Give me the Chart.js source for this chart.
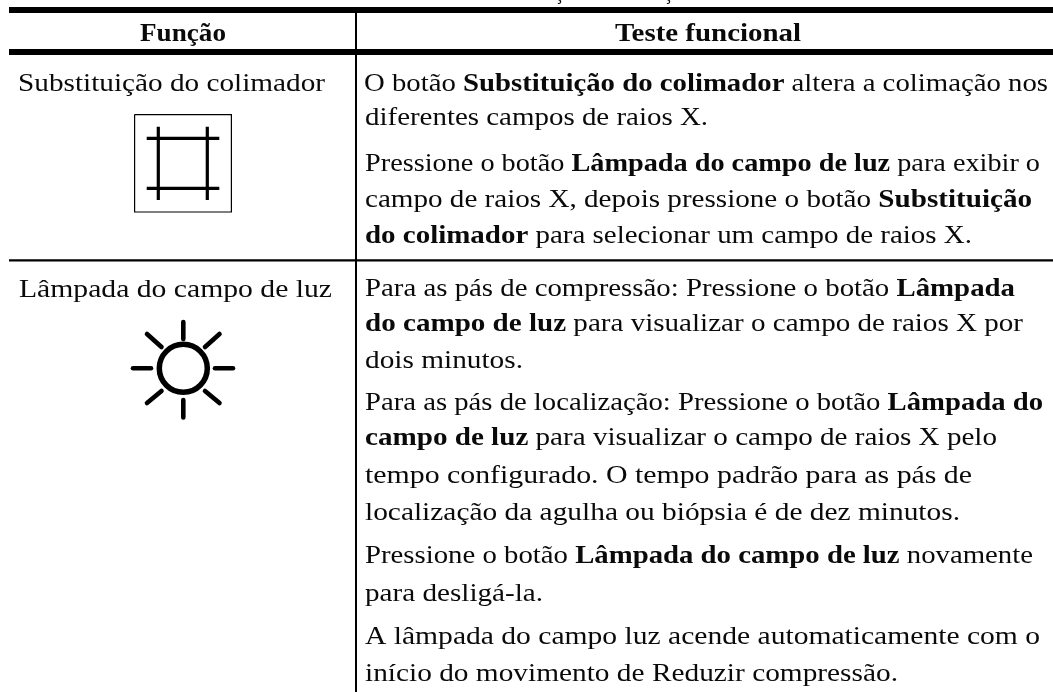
<!DOCTYPE html>
<html lang="pt">
<head>
<meta charset="utf-8">
<title>Função e teste funcional</title>
<style>html,body{margin:0;padding:0;background:#fff}canvas{display:block}</style>
<script src="https://cdn.jsdelivr.net/npm/chart.js@4"></script>
</head>
<body>
<canvas id="c" width="1053" height="692"></canvas>
<script>
// Table rules
const topRule = [[9,10],[1053,10]];
const headerRule = [[9,52],[1053,52]];
const rowRule = [[9,260.3],[1053,260.3]];
const columnRule = [[356,13],[356,692]];
// Collimator icon
const iconBox = [[134.6,114.6],[231.4,114.6],[231.4,212],[134.6,212],[134.6,114.6]];
const cropMarks = [
  [[158.3,126.7],[158.3,200]],
  [[207.3,126.7],[207.3,200]],
  [[146.7,138.3],[219.3,138.3]],
  [[146.7,188.3],[219.3,188.3]]
];
// Lamp icon
const sunCentre = [[183.3,368.3]];
const sunRays = [
  [[183.3,322],[183.3,339]],
  [[183.3,400],[183.3,417.5]],
  [[133,368.3],[151,368.3]],
  [[215,368.3],[233,368.3]],
  [[147,334],[161.5,347]],
  [[219.5,334],[205,347]],
  [[147,403],[161.5,391]],
  [[219.5,403],[205,391]]
];
// Text: each line is [left, baseline, right, runs]; a run is [text, bold]
const headerLines = [
  [140,41,226,[["Função",true]]],
  [615,41,801,[["Teste funcional",true]]]
];
const clippedTitle = [
  [555,-1,563,[["ç",false]]],
  [664,-1,672,[["ç",false]]]
];
const functionLines = [
  [18,91,325,[["Substituição do colimador",false]]],
  [19,297,332,[["Lâmpada do campo de luz",false]]]
];
const testLines = [
  [364,91,1048,[["O botão ",false],["Substituição do colimador",true],[" altera a colimação nos",false]]],
  [365,125,708,[["diferentes campos de raios X.",false]]],
  [365,171,1040,[["Pressione o botão ",false],["Lâmpada do campo de luz",true],[" para exibir o",false]]],
  [365,207,1032,[["campo de raios X, depois pressione o botão ",false],["Substituição",true]]],
  [365,243,972,[["do colimador",true],[" para selecionar um campo de raios X.",false]]],
  [365,296,1015,[["Para as pás de compressão: Pressione o botão ",false],["Lâmpada",true]]],
  [365,331,1023,[["do campo de luz",true],[" para visualizar o campo de raios X por",false]]],
  [365,368,523,[["dois minutos.",false]]],
  [365,410,1043,[["Para as pás de localização: Pressione o botão ",false],["Lâmpada do",true]]],
  [365,445,997,[["campo de luz",true],[" para visualizar o campo de raios X pelo",false]]],
  [365,483,972,[["tempo configurado. O tempo padrão para as pás de",false]]],
  [365,520,960,[["localização da agulha ou biópsia é de dez minutos.",false]]],
  [365,563,1033,[["Pressione o botão ",false],["Lâmpada do campo de luz",true],[" novamente",false]]],
  [365,601,543,[["para desligá-la.",false]]],
  [365,644,1040,[["A lâmpada do campo luz acende automaticamente com o",false]]],
  [365,681,898,[["início do movimento de Reduzir compressão.",false]]]
];

const pts = a => a.map(([x,y]) => ({x,y}));
const ink = '#000';
const line = (a, w, cap='butt') => ({type:'scatter',data:pts(a),showLine:true,borderColor:ink,borderWidth:w,borderCapStyle:cap,pointRadius:0,fill:false,tension:0});

const FONT = '"Liberation Serif", serif';
const SIZE = 25.5;
const textPlugin = {
  id:'tableText',
  afterDraw(chart){
    const {ctx, scales:{x:sx,y:sy}} = chart;
    const fontOf = b => (b?'bold ':'') + SIZE + 'px ' + FONT;
    ctx.save();
    ctx.fillStyle = '#0a0a0a';
    ctx.textBaseline = 'alphabetic';
    ctx.textAlign = 'left';
    [...clippedTitle,...headerLines,...functionLines,...testLines].forEach(([l,b,r,runs])=>{
      let total = 0;
      runs.forEach(([t,bold])=>{ctx.font = fontOf(bold); total += ctx.measureText(t).width;});
      const x0 = sx.getPixelForValue(l), x1 = sx.getPixelForValue(r), y = sy.getPixelForValue(b);
      const k = (x1-x0)/total;
      ctx.save();
      ctx.translate(x0,y);
      ctx.scale(k,1);
      let cx = 0;
      runs.forEach(([t,bold])=>{ctx.font = fontOf(bold); ctx.fillText(t,cx,0); cx += ctx.measureText(t).width;});
      ctx.restore();
    });
    ctx.restore();
  }
};

new Chart(document.getElementById('c'),{
  type:'scatter',
  data:{datasets:[
    line(topRule,6), line(headerRule,6), line(rowRule,2.2), line(columnRule,2),
    line(iconBox,1.2),
    ...cropMarks.map(m=>line(m,3.2)),
    ...sunRays.map(m=>line(m,4.6,'round')),
    {type:'scatter',data:pts(sunCentre),pointStyle:'circle',pointRadius:24,pointBorderWidth:5.5,pointBorderColor:ink,pointBackgroundColor:'rgba(0,0,0,0)',showLine:false}
  ]},
  options:{
    responsive:false,animation:false,
    layout:{padding:0,autoPadding:false},
    events:[],
    plugins:{legend:{display:false},tooltip:{enabled:false},title:{display:false}},
    scales:{
      x:{type:'linear',min:0,max:1053,display:false},
      y:{type:'linear',min:0,max:692,reverse:true,display:false}
    }
  },
  plugins:[textPlugin]
});
</script>
</body>
</html>
